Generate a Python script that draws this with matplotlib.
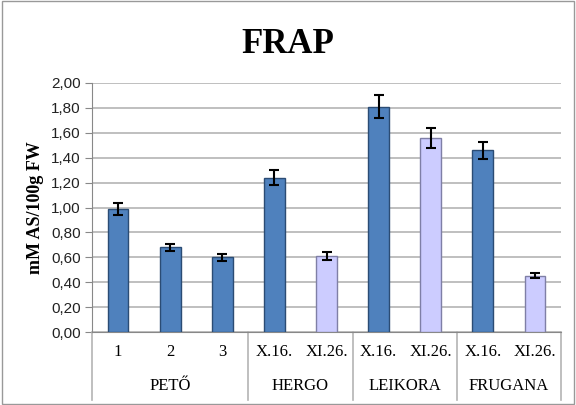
import matplotlib.pyplot as plt
from matplotlib.patches import Rectangle

sub_labels = ["1", "2", "3", "X.16.", "XI.26.", "X.16.", "XI.26.", "X.16.", "XI.26."]
groups = ["PETŐ", "HERGO", "LEIKORA", "FRUGANA"]
group_sizes = [3, 2, 2, 2]
values = [0.99, 0.68, 0.60, 1.24, 0.61, 1.81, 1.56, 1.46, 0.45]
errors = [0.05, 0.03, 0.03, 0.06, 0.03, 0.09, 0.08, 0.07, 0.02]
dark = "#4F81BD"
light = "#CCCCFF"
colors = [dark, dark, dark, dark, light, dark, light, dark, light]
edges = ["#2B4C74" if c == dark else "#7F7FA6" for c in colors]

fig = plt.figure(figsize=(5.76, 4.05), dpi=100)
ax = fig.add_axes([92 / 576, 73 / 405, 469 / 576, 249 / 405])

x = list(range(len(values)))
ax.bar(x, values, width=0.4, color=colors, edgecolor=edges, linewidth=1, zorder=3)
ax.errorbar(x, values, yerr=errors, fmt="none", ecolor="black", elinewidth=1.5,
            capsize=3.5, capthick=1.5, zorder=4)

ax.set_xlim(-0.5, len(values) - 0.5)
ax.set_ylim(0, 2.0)
yt = [i * 0.2 for i in range(11)]
ax.set_yticks(yt)
ax.set_yticklabels([f"{v:.2f}".replace(".", ",") for v in yt],
                   fontsize=11, family="Liberation Sans", color="#222222")
ax.yaxis.grid(True, color="#B4B4B4", linewidth=1.2, zorder=0)
ax.tick_params(axis="y", length=5, color="#888888", pad=3)
ax.set_xticks([])
for s in ["top", "right"]:
    ax.spines[s].set_visible(False)
ax.spines["left"].set_color("#888888")
ax.spines["bottom"].set_color("#888888")

ax.set_ylabel("mM AS/100g FW", fontsize=13, fontweight="bold",
              family="Liberation Serif", labelpad=5)
fig.text(0.5, 0.89, "FRAP", ha="center", va="center", fontsize=25,
         fontweight="bold", family="Liberation Serif")

tr = ax.get_xaxis_transform()
for i, lab in enumerate(sub_labels):
    ax.text(i, -0.08, lab, transform=tr, ha="center", va="center",
            fontsize=12, family="Liberation Serif")

start = -0.5
bounds = [start]
for g, n in zip(groups, group_sizes):
    ax.text(start + n / 2, -0.215, g, transform=tr, ha="center", va="center",
            fontsize=12, family="Liberation Serif")
    start += n
    bounds.append(start)
for b in bounds:
    ax.plot([b, b], [0, -0.275], transform=tr, color="#B4B4B4",
            linewidth=1.2, clip_on=False)

fig.patches.append(Rectangle((0.003, 0.003), 0.994, 0.994, transform=fig.transFigure,
                             fill=False, edgecolor="#999999", linewidth=1))

fig.savefig("out.png", dpi=100)
